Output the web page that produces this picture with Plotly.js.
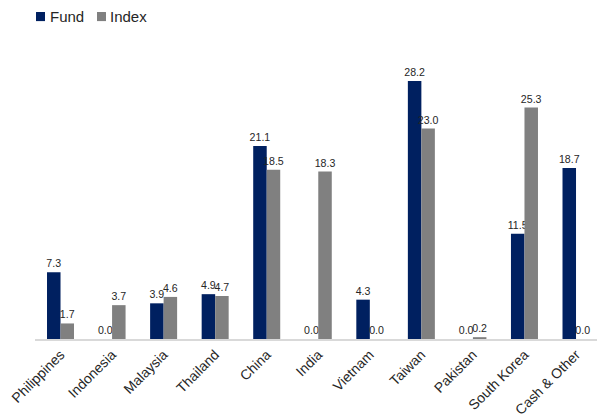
<!DOCTYPE html>
<html>
<head>
<meta charset="utf-8">
<script src="https://cdn.plot.ly/plotly-3.0.1.min.js"></script>
<style>html,body{margin:0;padding:0;background:#fff;}#chart{width:597px;height:418px;}</style>
</head>
<body>
<div id="chart"></div>
<script>
const categories = ["Philippines","Indonesia","Malaysia","Thailand","China","India","Vietnam","Taiwan","Pakistan","South Korea","Cash & Other"];
const fundValues = [7.3,0.0,3.9,4.9,21.1,0.0,4.3,28.2,0.0,11.5,18.7];
const indexValues = [1.7,3.7,4.6,4.7,18.5,18.3,0.0,23.0,0.2,25.3,0.0];
const seriesNames = ["Fund","Index"];
const seriesColors = ["#002060","#808080"];

const fmt = v => v.toFixed(1);
const FONT = 'Liberation Sans, Arial, sans-serif';
const traces = [fundValues, indexValues].map((vals, i) => ({
  type:'bar', name:seriesNames[i], x:categories, y:vals, text:vals.map(fmt),
  textposition:'outside', cliponaxis:false, constraintext:'none',
  marker:{color:seriesColors[i]},
  textfont:{family:FONT, size:10.6, color:'#262626'}
}));

// legend drawn as squares + text
const legendShapes = [
  {x0:0.0018, x1:0.0178},
  {x0:0.1103, x1:0.1263}
].map((p, i) => ({type:'rect', xref:'paper', yref:'paper', x0:p.x0, x1:p.x1,
  y0:1.156, y1:1.189, fillcolor:seriesColors[i], line:{width:0}}));
const legendText = [0.0231, 0.1299].map((x, i) => ({
  xref:'paper', yref:'paper', x:x, y:1.1745, xanchor:'left', yanchor:'middle',
  text:seriesNames[i], showarrow:false, font:{family:FONT, size:15, color:'#262626'}
}));

const layout = {
  width:597, height:418,
  margin:{l:35, r:0, t:64, b:79},
  paper_bgcolor:'#fff', plot_bgcolor:'#fff',
  font:{family:FONT, color:'#262626'},
  barmode:'group', bargap:0.476, bargroupgap:0,
  showlegend:false,
  shapes:legendShapes,
  annotations:legendText,
  xaxis:{type:'category', range:[-0.495, 10.407], tickangle:-45, showline:true,
         linecolor:'#d9d9d9', linewidth:2, ticks:'', tickfont:{size:14, color:'#262626'},
         showgrid:false, fixedrange:true},
  yaxis:{range:[0,30.06], visible:false, showgrid:false, zeroline:false}
};
Plotly.newPlot('chart', traces, layout, {displayModeBar:false, staticPlot:true});
</script>
</body>
</html>
